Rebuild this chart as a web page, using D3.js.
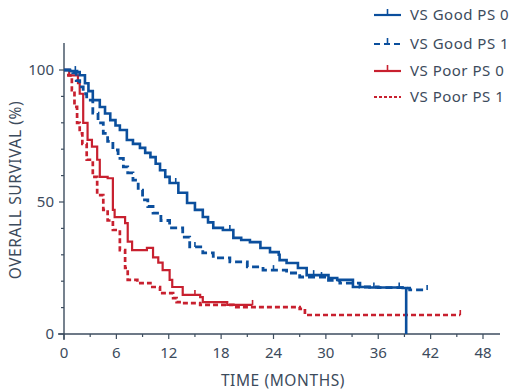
<!DOCTYPE html>
<html>
<head>
<meta charset="utf-8">
<script src="https://cdn.jsdelivr.net/npm/d3@7"></script>
<style>
  html, body { margin: 0; padding: 0; background: #fff; }
  svg { display: block; }
  text { font-family: "Noto Sans", "Open Sans", sans-serif; fill: #3c4b5c; }
</style>
</head>
<body>
<svg id="chart" width="513" height="390"></svg>
<script>
// ---- data (months, overall survival %) ----
const seriesNames = ["VS Good PS 0", "VS Good PS 1", "VS Poor PS 0", "VS Poor PS 1"];

const goodPS0Time = [0, 0.7, 1.5, 1.8, 2.4, 2.8, 3.3, 4.1, 4.7, 5.3, 5.9, 6.4, 7.2, 7.9, 8.7, 9.3, 9.9, 10.5, 11, 11.6, 12.1, 13.1, 14.1, 15, 15.9, 16.5, 17.1, 18.2, 19.4, 20.3, 21.3, 22.5, 23.6, 24.6, 24.7, 25.5, 26.8, 27.8, 29.3, 30.3, 31.3, 33.1, 35, 38.8, 39.2];
const goodPS0Surv = [100, 99.6, 99.2, 98, 95, 92, 88.6, 86, 83.5, 81, 79, 77.3, 73.5, 72, 70.5, 68.6, 67, 64.5, 62, 59.5, 57.2, 53.5, 49.6, 47, 44.3, 42.3, 40.2, 39.4, 36.4, 35.6, 34.8, 32.6, 31, 30, 28, 26.9, 25, 22.3, 22.3, 21.2, 20.5, 17.8, 17.6, 17.4, 0];

const goodPS1Time = [0, 1, 1.4, 1.8, 2.2, 2.6, 3.3, 3.9, 4.5, 5, 5.6, 6.2, 6.8, 7.3, 7.9, 8.5, 9, 9.6, 10.2, 11.1, 12.1, 13.6, 14.4, 15.9, 17.1, 19, 21, 22.8, 24.4, 25.5, 27, 29, 30.3, 31.6, 33.9, 36, 39, 39.6, 41.6];
const goodPS1Surv = [100, 98.9, 96, 93.6, 91, 88.6, 83.7, 80, 76, 73, 69.7, 66.5, 63.3, 61, 58.3, 54.5, 50.8, 48.3, 45.8, 43, 40.2, 36.7, 33, 30.7, 28.8, 27.3, 25.4, 24.2, 24.2, 23.1, 21.6, 21.6, 20.3, 19.3, 17.8, 17.6, 17.4, 16.7, 16.7];

const poorPS0Time = [0, 0.6, 1.6, 1.8, 2.2, 2.7, 3.2, 3.8, 4.1, 5, 5.6, 5.8, 7, 7.3, 7.8, 9.5, 10.2, 10.8, 11.3, 12.1, 12.4, 13.5, 13.6, 15.6, 15.9, 18.7, 21.6];
const poorPS0Surv = [100, 98, 95, 91, 80, 73.5, 71, 66, 59.5, 59, 47, 44.3, 42, 35, 31.8, 32.6, 29, 27, 24.2, 20.5, 17.8, 17.8, 14.8, 14, 12.1, 11, 11];

const poorPS1Time = [0, 0.5, 0.9, 1.2, 1.5, 1.8, 2.1, 2.6, 3.3, 3.8, 4.5, 5, 5.6, 6.4, 7, 7.3, 8.4, 9.9, 11, 12.5, 12.9, 13.6, 15.6, 19.4, 27, 27.6, 45.4];
const poorPS1Surv = [100, 98, 92.4, 86, 80, 76, 72, 66, 59.5, 52.6, 47, 43, 39.4, 31.8, 25, 20.5, 19.3, 17.8, 15.5, 13.6, 12.1, 11.7, 11, 10.2, 9.5, 7.2, 7.2];

// censor marks (months) per series
const goodPS0Censor = [1.3, 12.8, 19.0, 28.6, 35.5, 38.4];
const goodPS1Censor = [15.0, 24.0, 29.5, 41.6];
const poorPS0Censor = [15.0, 21.6];
const poorPS1Censor = [45.4];

const xTicks = [0, 3, 6, 9, 12, 15, 18, 21, 24, 27, 30, 33, 36, 39, 42, 45, 48];
const xTickLabels = [0, 6, 12, 18, 24, 30, 36, 42, 48];
const yTicks = [0, 10, 20, 30, 40, 50, 60, 70, 80, 90, 100];
const yTickLabels = [0, 50, 100];

// ---- drawing ----
const svg = d3.select("#chart");
const axisColor = "#3d4d5f";
const blue = "#0b4f9d";
const red = "#c8202f";

const x = d3.scaleLinear().domain([0, 48]).range([64, 483]);
const y = d3.scaleLinear().domain([0, 100]).range([334, 70]);

// axes lines
svg.append("line").attr("x1", 58).attr("x2", 500).attr("y1", y(0)).attr("y2", y(0))
  .attr("stroke", axisColor).attr("stroke-width", 1.4);
svg.append("line").attr("x1", x(0)).attr("x2", x(0)).attr("y1", 43).attr("y2", y(0) + 6)
  .attr("stroke", axisColor).attr("stroke-width", 1.4);

// x ticks
svg.append("g").selectAll("line").data(xTicks).join("line")
  .attr("x1", d => x(d)).attr("x2", d => x(d))
  .attr("y1", y(0)).attr("y2", d => y(0) + (xTickLabels.includes(d) ? 5 : 3))
  .attr("stroke", axisColor).attr("stroke-width", 1.2);
svg.append("g").selectAll("text").data(xTickLabels).join("text")
  .attr("x", d => x(d)).attr("y", 358)
  .attr("text-anchor", "middle").attr("font-size", 15)
  .text(d => d);

// y ticks
svg.append("g").selectAll("line").data(yTicks).join("line")
  .attr("x1", d => x(0) - (yTickLabels.includes(d) ? 5 : 3)).attr("x2", x(0))
  .attr("y1", d => y(d)).attr("y2", d => y(d))
  .attr("stroke", axisColor).attr("stroke-width", 1.2);
svg.append("g").selectAll("text").data(yTickLabels).join("text")
  .attr("x", 54).attr("y", d => y(d) + 5)
  .attr("text-anchor", "end").attr("font-size", 15)
  .text(d => d);

// axis titles
svg.append("text").attr("x", 283).attr("y", 386).attr("text-anchor", "middle")
  .attr("font-size", 15.5).attr("letter-spacing", 0.6).text("TIME (MONTHS)");
svg.append("text").attr("transform", "translate(21,190) rotate(-90)")
  .attr("text-anchor", "middle").attr("font-size", 15.5).attr("letter-spacing", 0.6)
  .text("OVERALL SURVIVAL (%)");

// curves
const series = [
  {name: seriesNames[0], t: goodPS0Time, s: goodPS0Surv, c: goodPS0Censor, color: blue, dash: null, w: 2.6},
  {name: seriesNames[1], t: goodPS1Time, s: goodPS1Surv, c: goodPS1Censor, color: blue, dash: "7,4", w: 2.8},
  {name: seriesNames[2], t: poorPS0Time, s: poorPS0Surv, c: poorPS0Censor, color: red, dash: null, w: 2.2},
  {name: seriesNames[3], t: poorPS1Time, s: poorPS1Surv, c: poorPS1Censor, color: red, dash: "5,3", w: 2.7}
];

const line = d3.line().x(d => x(d[0])).y(d => y(d[1])).curve(d3.curveStepAfter);

function survAt(ser, t) {
  let v = ser.s[0];
  for (let i = 0; i < ser.t.length; i++) { if (ser.t[i] <= t) v = ser.s[i]; }
  return v;
}

series.slice().reverse().forEach(ser => {
  const pts = ser.t.map((t, i) => [t, ser.s[i]]);
  svg.append("path").datum(pts)
    .attr("d", line)
    .attr("fill", "none")
    .attr("stroke", ser.color)
    .attr("stroke-width", ser.w)
    .attr("stroke-dasharray", ser.dash);
  svg.append("g").selectAll("line").data(ser.c).join("line")
    .attr("x1", d => x(d)).attr("x2", d => x(d))
    .attr("y1", d => y(survAt(ser, d))).attr("y2", d => y(survAt(ser, d)) - 5)
    .attr("stroke", ser.color).attr("stroke-width", 1.6);
});

// legend
const legendY = [15, 44, 71, 97];
const lg = svg.append("g");
series.forEach((ser, i) => {
  const ly = legendY[i];
  lg.append("line").attr("x1", 374).attr("x2", 401).attr("y1", ly).attr("y2", ly)
    .attr("stroke", ser.color).attr("stroke-width", 2.2)
    .attr("stroke-dasharray", ser.dash ? (i === 1 ? "6,4" : "3,2") : null);
  if (i < 3) {
    lg.append("line").attr("x1", 387.5).attr("x2", 387.5).attr("y1", ly).attr("y2", ly - 6)
      .attr("stroke", ser.color).attr("stroke-width", 1.6);
  }
  lg.append("text").attr("x", 410).attr("y", ly + 5).attr("font-size", 15)
    .attr("letter-spacing", 0.5).text(ser.name);
});
</script>
</body>
</html>
